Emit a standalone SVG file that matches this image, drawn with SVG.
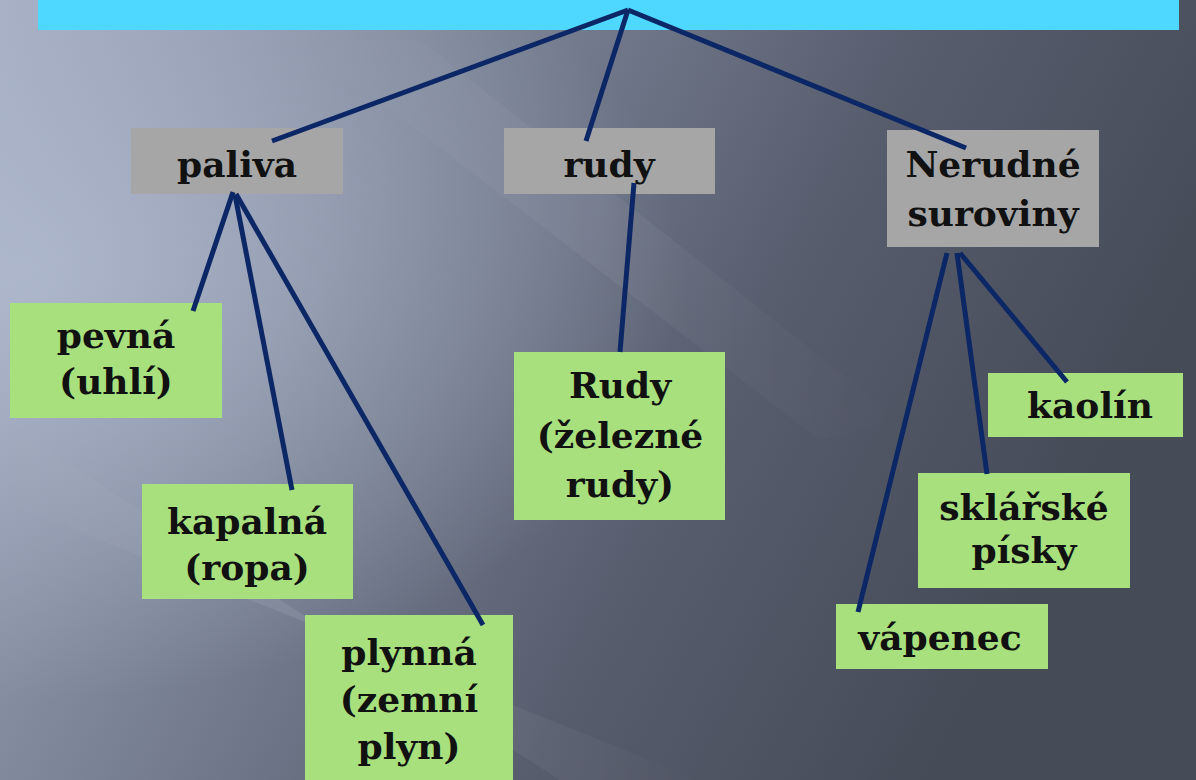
<svg xmlns="http://www.w3.org/2000/svg" width="1196" height="780" viewBox="0 0 1196 780">
<style>
.g{fill:#a6a6a6}
.n{fill:#a8e07e}
.t{font-family:"DejaVu Serif","Liberation Serif",serif;font-weight:bold;font-size:36px;fill:#111;text-anchor:middle}
.c{stroke:#0c2766;stroke-width:5;fill:none;stroke-linecap:butt}
</style>
<defs>
<linearGradient id="bg" x1="0" y1="0" x2="1" y2="0.35">
<stop offset="0" stop-color="#a2abc0"/>
<stop offset="0.35" stop-color="#7d8599"/>
<stop offset="0.7" stop-color="#575d6d"/>
<stop offset="1" stop-color="#464b58"/>
</linearGradient>
<radialGradient id="glow" cx="0.02" cy="0.35" r="0.55">
<stop offset="0" stop-color="#b8c2d6" stop-opacity="0.7"/>
<stop offset="1" stop-color="#b8c2d6" stop-opacity="0"/>
</radialGradient>
<linearGradient id="streak" x1="0" y1="0" x2="1" y2="0">
<stop offset="0" stop-color="#ffffff" stop-opacity="0"/>
<stop offset="0.5" stop-color="#ffffff" stop-opacity="0.1"/>
<stop offset="1" stop-color="#ffffff" stop-opacity="0"/>
</linearGradient>
</defs>
<rect x="0" y="0" width="1196" height="780" fill="url(#bg)"/>
<rect x="0" y="0" width="1196" height="780" fill="url(#glow)"/>
<polygon points="0,420 0,500 700,780 560,780" fill="url(#streak)"/>
<polygon points="300,40 420,40 900,420 820,440" fill="url(#streak)" opacity="0.5"/>
<rect x="38" y="0" width="1141" height="30" fill="#4fd8ff"/>
<g id="paliva"><rect class="g" x="131" y="128" width="212" height="66"/><text class="t" x="237" y="177">paliva</text></g>
<g id="rudy"><rect class="g" x="504" y="128" width="211" height="66"/><text class="t" x="609" y="177">rudy</text></g>
<g id="nerudne"><rect class="g" x="887" y="130" width="212" height="117"/><text class="t" x="993" y="177">Nerudné</text><text class="t" x="993" y="226">suroviny</text></g>
<g id="pevna"><rect class="n" x="10" y="303" width="212" height="115"/><text class="t" x="116" y="348">pevná</text><text class="t" x="116" y="394">(uhlí)</text></g>
<g id="kapalna"><rect class="n" x="142" y="484" width="211" height="115"/><text class="t" x="247" y="534">kapalná</text><text class="t" x="247" y="580">(ropa)</text></g>
<g id="plynna"><rect class="n" x="305" y="615" width="208" height="170"/><text class="t" x="409" y="665">plynná</text><text class="t" x="409" y="712">(zemní</text><text class="t" x="409" y="759">plyn)</text></g>
<g id="rudy2"><rect class="n" x="514" y="352" width="211" height="168"/><text class="t" x="620" y="398">Rudy</text><text class="t" x="620" y="448">(železné</text><text class="t" x="620" y="497">rudy)</text></g>
<g id="kaolin"><rect class="n" x="988" y="373" width="195" height="64"/><text class="t" x="1090" y="418">kaolín</text></g>
<g id="sklarske"><rect class="n" x="918" y="473" width="212" height="115"/><text class="t" x="1024" y="520">sklářské</text><text class="t" x="1024" y="563">písky</text></g>
<g id="vapenec"><rect class="n" x="836" y="604" width="212" height="65"/><text class="t" x="940" y="650">vápenec</text></g>
<g id="connectors">
<line class="c" x1="628" y1="10" x2="272" y2="141"/>
<line class="c" x1="628" y1="10" x2="586" y2="141"/>
<line class="c" x1="628" y1="10" x2="966" y2="148"/>
<line class="c" x1="233" y1="192" x2="193" y2="311"/>
<line class="c" x1="235" y1="195" x2="292" y2="490"/>
<line class="c" x1="236" y1="194" x2="483" y2="625"/>
<line class="c" x1="634" y1="183" x2="620" y2="352"/>
<line class="c" x1="947" y1="253" x2="858" y2="612"/>
<line class="c" x1="957" y1="253" x2="987" y2="474"/>
<line class="c" x1="960" y1="253" x2="1067" y2="382"/>
</g>
</svg>
